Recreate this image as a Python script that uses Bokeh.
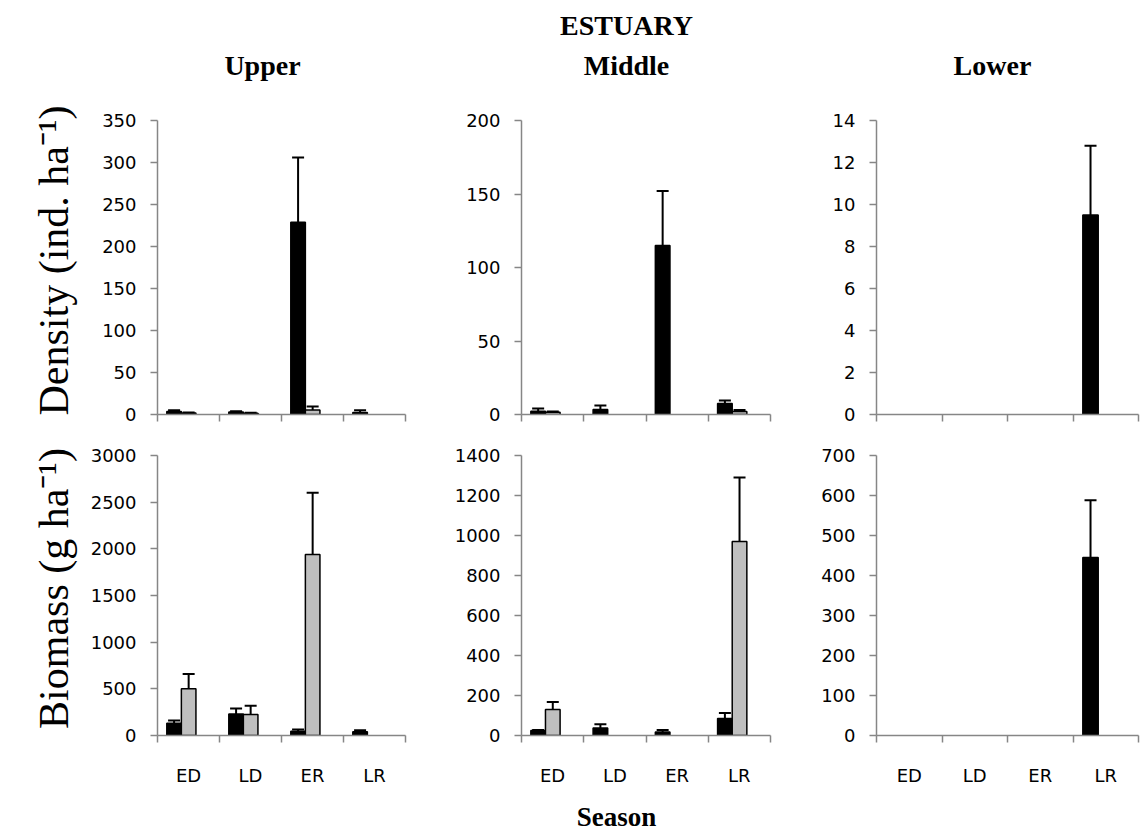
from bokeh.plotting import figure
from bokeh.layouts import row, column
from bokeh.models import Range1d, FixedTicker, Whisker, ColumnDataSource, TeeHead
from bokeh.embed import file_html
from bokeh.resources import INLINE
from bokeh.core.properties import value

seasons = ["ED", "LD", "ER", "LR"]

# Density (ind. ha-1): means and standard errors, dark and light series
upper_den_dark = [3.5, 3.0, 229, 2.5]
upper_den_dark_se = [1.5, 1.0, 77, 2.5]
upper_den_light = [1.8, 1.5, 5.5, 0]
upper_den_light_se = [0.5, 0.5, 4, 0]

middle_den_dark = [2.2, 3.4, 115, 7.5]
middle_den_dark_se = [1.8, 2.7, 37, 2.0]
middle_den_light = [1.5, 0, 0, 2.0]
middle_den_light_se = [0.5, 0, 0, 1.0]

lower_den_dark = [0, 0, 0, 9.5]
lower_den_dark_se = [0, 0, 0, 3.3]
lower_den_light = [0, 0, 0, 0]
lower_den_light_se = [0, 0, 0, 0]

# Biomass (g ha-1)
upper_bio_dark = [130, 230, 45, 40]
upper_bio_dark_se = [30, 60, 20, 15]
upper_bio_light = [500, 225, 1940, 0]
upper_bio_light_se = [160, 95, 660, 0]

middle_bio_dark = [25, 38, 18, 85]
middle_bio_dark_se = [3, 18, 10, 28]
middle_bio_light = [130, 0, 0, 970]
middle_bio_light_se = [38, 0, 0, 320]

lower_bio_dark = [0, 0, 0, 445]
lower_bio_dark_se = [0, 0, 0, 143]
lower_bio_light = [0, 0, 0, 0]
lower_bio_light_se = [0, 0, 0, 0]

density_axis = {"Upper": (350, 50), "Middle": (200, 50), "Lower": (14, 2)}
biomass_axis = {"Upper": (3000, 500), "Middle": (1400, 200), "Lower": (700, 100)}

header_texts = ["ESTUARY", "Upper", "Middle", "Lower"]
y_titles = ["Density (ind. ha\u207b\u00b9)", "Biomass (g ha\u207b\u00b9)"]
x_title = "Season"

AXIS_GRAY = "#868686"
TICK_FONT = "DejaVu Sans"
TICK_SIZE = "18px"
SERIF = "Liberation Serif"


def blank(width, height):
    p = figure(width=width, height=height, x_range=Range1d(0, width), y_range=Range1d(height, 0),
               output_backend="svg", toolbar_location=None, min_border=0)
    p.axis.visible = False
    p.grid.visible = False
    p.outline_line_color = None
    return p


def panel(dark, dark_se, light, light_se, ymax, ystep, left, frame_w, right, top, frame_h, bottom, labels):
    p = figure(frame_width=frame_w, frame_height=frame_h, x_range=Range1d(0, 4), y_range=Range1d(0, ymax),
               output_backend="svg", toolbar_location=None,
               min_border_left=left, min_border_right=right, min_border_top=top, min_border_bottom=bottom)
    p.grid.visible = False
    p.outline_line_color = None

    idx = list(range(len(seasons)))
    width = 0.235
    xd = [i + 0.15 + width / 2 for i in idx]
    xl = [i + 0.15 + width * 1.5 for i in idx]

    for xs, vals, ses, color in ((xd, dark, dark_se, "black"), (xl, light, light_se, "#bfbfbf")):
        keep = [k for k in idx if vals[k] > 0]
        src = ColumnDataSource(dict(x=[xs[k] for k in keep], top=[vals[k] for k in keep]))
        p.vbar(x="x", top="top", bottom=0, width=width, source=src,
               fill_color=color, line_color="black", line_width=1.5)
        ek = [k for k in idx if ses[k] > 0]
        esrc = ColumnDataSource(dict(x=[xs[k] for k in ek], lo=[vals[k] for k in ek],
                                     hi=[vals[k] + ses[k] for k in ek]))
        p.add_layout(Whisker(base="x", lower="lo", upper="hi", source=esrc, lower_head=None,
                             upper_head=TeeHead(size=12, line_width=2, line_color="black"),
                             line_width=2, line_color="black"))

    yax = p.yaxis[0]
    yax.ticker = FixedTicker(ticks=list(range(0, ymax + 1, ystep)))
    yax.axis_line_color = AXIS_GRAY
    yax.axis_line_width = 1.5
    yax.major_tick_line_color = AXIS_GRAY
    yax.major_tick_line_width = 1.5
    yax.major_tick_out = 7
    yax.major_tick_in = 0
    yax.minor_tick_line_color = None
    yax.major_label_text_font = TICK_FONT
    yax.major_label_text_font_size = TICK_SIZE
    yax.major_label_text_color = "black"
    yax.major_label_standoff = 14

    xax = p.xaxis[0]
    if labels:
        xax.ticker = FixedTicker(ticks=[i + 0.5 for i in idx], minor_ticks=[0, 1, 2, 3, 4])
        xax.major_label_overrides = {i + 0.5: s for i, s in zip(idx, seasons)}
    else:
        xax.ticker = FixedTicker(ticks=[], minor_ticks=[0, 1, 2, 3, 4])
    xax.axis_line_color = AXIS_GRAY
    xax.axis_line_width = 1.5
    xax.major_tick_line_color = None
    xax.major_tick_out = 0
    xax.major_tick_in = 0
    xax.minor_tick_line_color = AXIS_GRAY
    xax.minor_tick_line_width = 1.5
    xax.minor_tick_out = 7
    xax.minor_tick_in = 0
    xax.major_label_text_font = TICK_FONT
    xax.major_label_text_font_size = TICK_SIZE
    xax.major_label_text_color = "black"
    xax.major_label_standoff = 22
    return p


# column geometry: (left border, frame width, right border)
cols = {"Upper": (77, 248, 10), "Middle": (106, 249, 10), "Lower": (96, 262, 2)}

den_data = {
    "Upper": (upper_den_dark, upper_den_dark_se, upper_den_light, upper_den_light_se),
    "Middle": (middle_den_dark, middle_den_dark_se, middle_den_light, middle_den_light_se),
    "Lower": (lower_den_dark, lower_den_dark_se, lower_den_light, lower_den_light_se),
}
bio_data = {
    "Upper": (upper_bio_dark, upper_bio_dark_se, upper_bio_light, upper_bio_light_se),
    "Middle": (middle_bio_dark, middle_bio_dark_se, middle_bio_light, middle_bio_light_se),
    "Lower": (lower_bio_dark, lower_bio_dark_se, lower_bio_light, lower_bio_light_se),
}

den_row = []
bio_row = []
for name in ["Upper", "Middle", "Lower"]:
    l, fw, r = cols[name]
    ymax, ystep = density_axis[name]
    den_row.append(panel(*den_data[name], ymax, ystep, l, fw, r, 20, 294, 20, False))
    ymax, ystep = biomass_axis[name]
    bio_row.append(panel(*bio_data[name], ymax, ystep, l, fw, r, 21, 280, 56, True))

# header with estuary section titles
header = blank(1140, 100)
header.text(x=[626], y=[25], text=[header_texts[0]], text_font=value(SERIF), text_font_style="bold",
            text_font_size="28px", text_align="center", text_baseline="middle", text_color="black")
header.text(x=[262, 626, 992], y=[65, 65, 65], text=header_texts[1:], text_font=value(SERIF),
            text_font_style="bold", text_font_size="28px", text_align="center", text_baseline="middle",
            text_color="black")

# rotated y titles
side = blank(80, 691)
side.text(x=[53, 53], y=[160, 488], text=y_titles, angle=1.5707963, text_font=value(SERIF),
          text_font_size="42px", text_align="center", text_baseline="middle", text_color="black")

footer = blank(1140, 45)
footer.text(x=[616], y=[25], text=[x_title], text_font=value(SERIF), text_font_style="bold",
            text_font_size="27px", text_align="center", text_baseline="middle", text_color="black")

layout = column(header, row(side, column(row(*den_row), row(*bio_row))), footer)

open("out.html", "w").write(file_html(layout, INLINE))
